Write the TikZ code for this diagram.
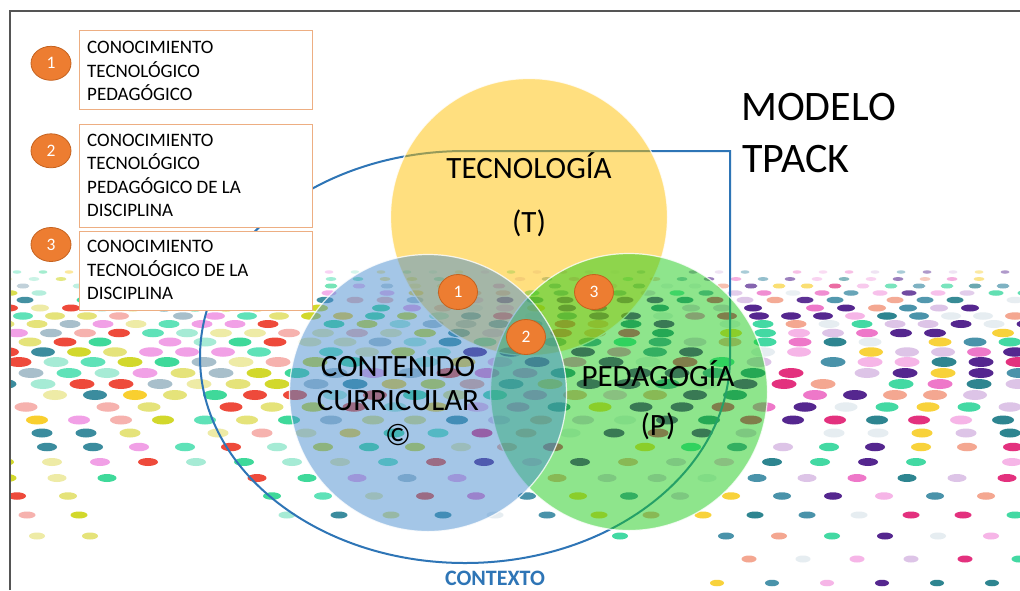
\documentclass[tikz,border=0pt]{standalone}
\usepackage{fontspec}
\setmainfont{Carlito}
\usetikzlibrary{shapes.geometric}
\definecolor{L0}{HTML}{3FD99A}
\definecolor{L1}{HTML}{A6EBD5}
\definecolor{L2}{HTML}{D2D82C}
\definecolor{L3}{HTML}{F9CF2F}
\definecolor{L4}{HTML}{EEEBA6}
\definecolor{L5}{HTML}{EE4A3B}
\definecolor{L6}{HTML}{F6B2AE}
\definecolor{L7}{HTML}{3B8C9E}
\definecolor{L8}{HTML}{A8BFCB}
\definecolor{L9}{HTML}{5FE2B8}
\definecolor{L10}{HTML}{E5E37A}
\definecolor{L11}{HTML}{F1A0E6}
\definecolor{R0}{HTML}{55278F}
\definecolor{R1}{HTML}{EE78C9}
\definecolor{R2}{HTML}{F4A791}
\definecolor{R3}{HTML}{F8D23B}
\definecolor{R4}{HTML}{43D9A3}
\definecolor{R5}{HTML}{2E8590}
\definecolor{R6}{HTML}{DDC4E7}
\definecolor{R7}{HTML}{E3317E}
\definecolor{R8}{HTML}{E6EDF1}
\definecolor{R9}{HTML}{4A93AA}
\definecolor{R10}{HTML}{F6B5E7}
\definecolor{R11}{HTML}{55278F}
\definecolor{ctxblue}{HTML}{2E75B6}
\definecolor{tyellow}{HTML}{FFC000}
\definecolor{cblue}{HTML}{4A8FD0}
\definecolor{pgreen}{HTML}{1ECC1A}
\definecolor{numorange}{HTML}{ED7D31}
\definecolor{numedge}{HTML}{C5621F}
\definecolor{boxedge}{HTML}{EDAE82}
\definecolor{framegrey}{HTML}{555555}
\tikzset{
  ctx/.style={draw=ctxblue, line width=2pt},
  bigcirc/.style={circle, minimum size=277pt, inner sep=0pt, outer sep=0pt, fill opacity=0.5, draw=white, draw opacity=0.8, line width=1.2pt},
  numc/.style={ellipse, minimum width=39pt, minimum height=35pt, inner sep=0pt, fill=numorange, draw=numedge, line width=0.8pt, text=white, font=\fontsize{17.5}{20}\selectfont},
  infobox/.style={rectangle, draw=boxedge, fill=white, line width=1pt, anchor=north west, inner sep=0pt, minimum width=233pt},
  infotext/.style={anchor=north west, inner sep=0pt, align=left, font=\fontsize{19}{23.5}\selectfont},
  biglabel/.style={anchor=base, inner sep=0pt, font=\fontsize{31}{36}\selectfont},
  titletext/.style={anchor=base west, inner sep=0pt, font=\fontsize{42}{50}\selectfont},
  frameline/.style={draw=framegrey, line width=2pt}
}
\begin{document}
\begin{tikzpicture}[x=1pt,y=-1pt]
\useasboundingbox (0,0) rectangle (1020,590);
\fill[white] (0,0) rectangle (1020,590);
% dotted background
\begin{scope}
\clip (11,12) rectangle (1020,590);
\pgfmathsetseed{12345}
\foreach \yy/\ss/\ww/\hh [count=\i] in {272/26/9/3.5, 279/27/11/4, 286/28/13/5, 293/29/15/5.5, 300/30/17/6.5, 308/31/18/7, 316/32/20/7.5, 324/33/21/8, 333/34/22/8.5, 342/35/23/9, 352/36/24/9.5, 362/37/25/10, 373/38/25/10, 384/39/25/10, 395/40/24/10, 407/41/23/9.5, 420/42/22/9, 433/44/21/9, 447/46/20/8.5, 462/48/20/8, 478/50/19/8, 496/51/18/7.5, 515/52/17/7, 536/53/16/7, 559/54/15/7, 583/55/14/6.5}{
  \pgfmathsetmacro{\off}{mod(\i*17,\ss)}
  \pgfmathtruncatemacro{\nc}{1020/\ss+1}
  \pgfmathsetmacro{\rx}{\ww/2}
  \pgfmathsetmacro{\ry}{\hh/2}
  \pgfmathsetmacro{\op}{min(1,0.35+\i*0.12)}
  \foreach \j in {0,...,\nc}{
    \pgfmathsetmacro{\xx}{\off+\j*\ss}
    \pgfmathsetmacro{\bnd}{\xx<110 ? 540 : (\xx<240 ? 475 : (\xx<600 ? 522 : (\xx<700 ? 545 : 595)))}
    \pgfmathrandominteger{\k}{0}{11}
    \pgfmathrandominteger{\sk}{0}{14}
    \pgfmathtruncatemacro{\show}{and(\yy<\bnd,\sk>0)}
    \ifnum\show=1
      \ifdim\xx pt<470pt \def\cn{L\k}\else\def\cn{R\k}\fi
      \fill[\cn, opacity=\op] (\xx,\yy) ellipse[x radius=\rx pt, y radius=\ry pt];
    \fi
  }
}
\end{scope}
% context outline
\draw[ctx] (465,151) -- (730,151) -- (730,357) arc[start angle=0, end angle=-270, x radius=265pt, y radius=206pt];
% three circles
\node[bigcirc, fill=tyellow] (T) at (529,217) {};
\node[bigcirc, fill=pgreen] (P) at (629,392) {};
\node[bigcirc, fill=cblue] (C) at (428,393) {};
% circle labels
\node[biglabel] (tl1) at (529,178) {TECNOLOGÍA};
\node[biglabel] (tl2) at (529,232.5) {(T)};
\node[biglabel] (cl1) at (398,376) {CONTENIDO};
\node[biglabel] (cl2) at (398,410.5) {CURRICULAR};
\node[biglabel] (cl3) at (398,445) {©};
\node[biglabel] (pl1) at (658,386.5) {PEDAGOGÍA};
\node[biglabel] (pl2) at (658,435.5) {(P)};
% intersection markers
\node[numc] (m1) at (458,292) {1};
\node[numc] (m2) at (526,337) {2};
\node[numc] (m3) at (594,292) {3};
% frame
\draw[frameline] (10,590) -- (10,11) -- (1020,11);
% legend boxes
\node[infobox, minimum height=79pt] (b1) at (79,30) {};
\node[infobox, minimum height=103pt] (b2) at (79,124) {};
\node[infobox, minimum height=79pt] (b3) at (79,231) {};
\node[infotext] (t1) at (87,41.3) {CONOCIMIENTO\\TECNOLÓGICO\\PEDAGÓGICO};
\node[infotext] (t2) at (87,133.5) {CONOCIMIENTO\\TECNOLÓGICO\\PEDAGÓGICO DE LA\\DISCIPLINA};
\node[infotext] (t3) at (87,240.3) {CONOCIMIENTO\\TECNOLÓGICO DE LA\\DISCIPLINA};
\node[numc, minimum width=40pt, minimum height=34pt] (l1) at (51,63.3) {1};
\node[numc, minimum width=40pt, minimum height=34pt] (l2) at (51,150.8) {2};
\node[numc, minimum width=40pt, minimum height=34pt] (l3) at (51,244.5) {3};
% title
\node[titletext] (ti1) at (741,120) {MODELO};
\node[titletext] (ti2) at (742,172) {TPACK};
% context label
\node[anchor=base, inner sep=0pt, text=ctxblue, font=\bfseries\fontsize{22}{26}\selectfont] (ctxl) at (495,585) {CONTEXTO};
\end{tikzpicture}
\end{document}
